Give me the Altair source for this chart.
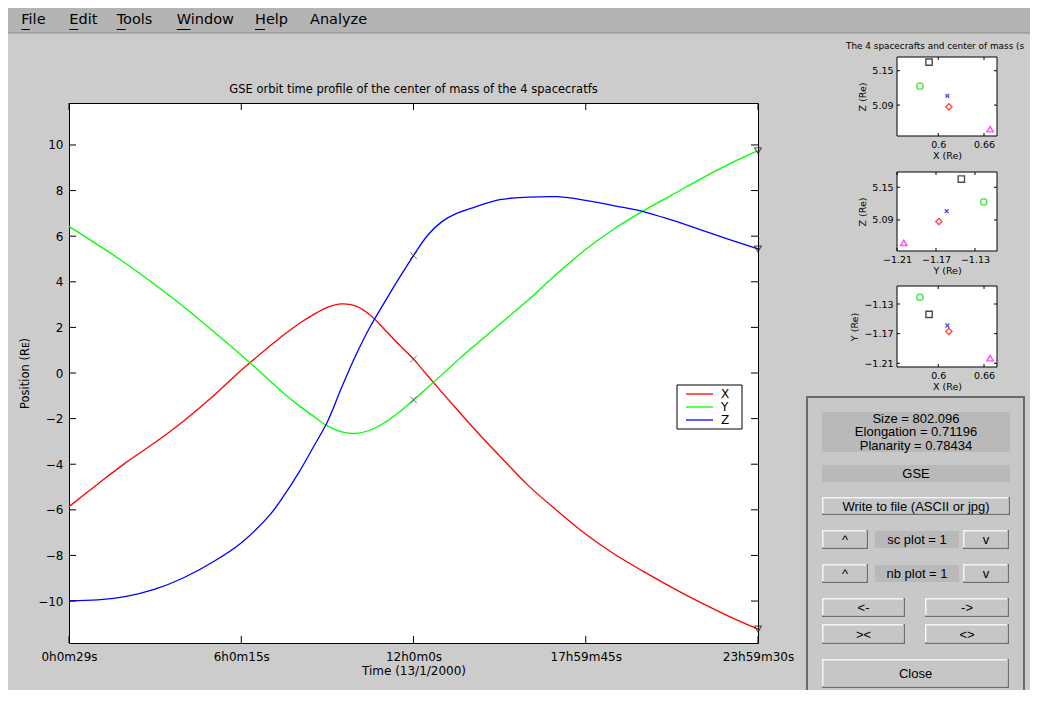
import altair as alt
import pandas as pd

# ------------------------------------------------------------------ data
# time grid (hours) and GSE positions of the centre of mass (Earth radii)
TIME_H = [0.00806, 1, 2, 3, 4, 5, 6, 7, 7.5, 8, 8.5, 9, 9.5, 10, 10.5, 11, 11.5,
          12, 12.5, 13, 13.5, 14, 15, 16, 17, 18, 19, 20, 21, 22, 23, 23.99167]
POS_X = [-5.86, -4.88, -3.92, -3.05, -2.10, -1.04, 0.12, 1.18, 1.69, 2.15, 2.55, 2.88,
         3.03, 2.93, 2.53, 1.90, 1.24, 0.61, -0.13, -0.86, -1.58, -2.29, -3.64, -4.94,
         -6.04, -7.07, -7.95, -8.70, -9.41, -10.07, -10.68, -11.23]
POS_Y = [6.43, 5.63, 4.79, 3.87, 2.91, 1.86, 0.79, -0.34, -0.91, -1.42, -1.88, -2.32,
         -2.58, -2.65, -2.50, -2.17, -1.72, -1.18, -0.62, -0.06, 0.51, 1.07, 2.14, 3.21,
         4.36, 5.43, 6.34, 7.11, 7.81, 8.51, 9.17, 9.75]
POS_Z = [-9.99, -9.95, -9.80, -9.48, -8.98, -8.30, -7.45, -6.22, -5.36, -4.38, -3.28,
         -2.15, -0.63, 0.80, 2.05, 3.12, 4.16, 5.15, 6.05, 6.65, 7.00, 7.22, 7.60, 7.71,
         7.73, 7.57, 7.33, 7.08, 6.70, 6.28, 5.85, 5.44]
SERIES = ["X", "Y", "Z"]
SERIES_COLORS = ["#ff0000", "#00ff00", "#0000ff"]

TIME_TICKS_S = [29, 21615, 43200, 64785, 86370]
TIME_TICK_LABELS = ["0h0m29s", "6h0m15s", "12h0m0s", "17h59m45s", "23h59m30s"]
POS_TICKS = [-10, -8, -6, -4, -2, 0, 2, 4, 6, 8, 10]
POS_DOMAIN = [-11.84, 11.84]

# the 4 spacecraft and their centre of mass (Re)
SC_NAMES = ["C1", "C2", "C3", "C4", "Center"]
SC_X = [0.588, 0.614, 0.576, 0.668, 0.612]
SC_Y = [-1.144, -1.167, -1.121, -1.203, -1.159]
SC_Z = [5.165, 5.087, 5.123, 5.048, 5.106]
SC_COLORS = ["#000000", "#ff0000", "#00e000", "#ff00ff", "#0000ff"]
CROSS_SMALL = "M-0.6,-0.6L0.6,0.6M-0.6,0.6L0.6,-0.6"
SC_SHAPES = ["square", "diamond", "circle", "triangle-up", CROSS_SMALL]

XRE_TICKS = [0.6, 0.66]
YRE_TICKS = [-1.21, -1.17, -1.13]
ZRE_TICKS = [5.09, 5.15]
XRE_DOMAIN = [0.546, 0.677]
YRE_DOMAIN_H = [-1.21, -1.1074]
YRE_DOMAIN_V = [-1.215, -1.1057]
ZRE_DOMAIN_1 = [5.036, 5.174]
ZRE_DOMAIN_2 = [5.033, 5.178]

INFO_LINES = ["Size = 802.096", "Elongation = 0.71196", "Planarity = 0.78434"]
MENU = ["File", "Edit", "Tools", "Window", "Help", "Analyze"]

# ------------------------------------------------------------------ layout
W, H = 689, 540
FONT = "DejaVu Sans"
UIFONT = "Liberation Sans"
CROSS = "M-1,-1L1,1M-1,1L1,-1"
ONE = alt.Data(values=[{"k": 1}])

main_df = pd.DataFrame({
    "t": [int(round(h * 3600)) for h in TIME_H] * 3,
    "series": [s for s in SERIES for _ in TIME_H],
    "pos": POS_X + POS_Y + POS_Z,
})
sc_df = pd.DataFrame({"name": SC_NAMES, "x": SC_X, "y": SC_Y, "z": SC_Z})


def rect(x0, y0, x1, y1, fill, stroke=None, sw=1.0):
    kw = {"fill": fill}
    if stroke:
        kw.update(stroke=stroke, strokeWidth=sw)
    else:
        kw.update(strokeWidth=0)
    return alt.Chart(ONE).mark_rect(**kw).encode(
        x=alt.value(x0), x2=alt.value(x1), y=alt.value(y0), y2=alt.value(y1))


def hline(x0, x1, y, color, sw=1.0):
    return alt.Chart(ONE).mark_rule(color=color, strokeWidth=sw).encode(
        x=alt.value(x0), x2=alt.value(x1), y=alt.value(y))


def text(s, x, y, size, font=UIFONT, align="center"):
    return alt.Chart(ONE).mark_text(
        text=s, font=font, fontSize=size, align=align, baseline="middle",
        color="black").encode(x=alt.value(x), y=alt.value(y))


def button(x0, y0, x1, y1, label):
    return [rect(x0, y0, x1, y1, "#6e6e6e"),
            rect(x0, y0, x1 - 1.5, y1 - 1.5, "#f4f4f4"),
            rect(x0 + 1.5, y0 + 1.5, x1 - 1.5, y1 - 1.5, "#c6c6c6"),
            text(label, (x0 + x1) / 2, (y0 + y1) / 2 + 0.5, 13)]


# ------------------------------------------------------------------ chrome
chrome = [rect(-61, -95, 961, -70, "#b4b4b4"), hline(-61, 961, -70, "#8c8c8c")]
menu_x = [-47.7, 0.3, 47.7, 107.7, 186, 241]
menu_ul = [8.5, 9, 9, 14, 10, 0]
for name, mx, ul in zip(MENU, menu_x, menu_ul):
    chrome.append(text(name, mx, -83, 14.5, font=FONT, align="left"))
    if ul:
        chrome.append(hline(mx, mx + ul, -73.5, "black", 1))

chrome.append(rect(738, 294, 955, 600, "#c8c8c8", "#6a6a6a", 2))
chrome.append(rect(753, 309, 941, 349, "#b9b9b9"))
for line, ly in zip(INFO_LINES, [315.5, 329, 342.5]):
    chrome.append(text(line, 847, ly, 13))
chrome.append(rect(753, 362, 941, 379, "#b9b9b9"))
chrome.append(text("GSE", 847, 370.5, 13))
for bx in [((753, 394, 941, 412), "Write to file (ASCII or jpg)"),
           ((753, 427, 799, 446), "^"), ((894, 427, 940, 446), "v"),
           ((753, 461, 799, 480), "^"), ((894, 461, 940, 480), "v"),
           ((753, 495, 836, 514), "<-"), ((856, 495, 940, 514), "->"),
           ((753, 521, 836, 541), "><"), ((856, 521, 940, 541), "<>"),
           ((753, 556, 940, 585), "Close")]:
    chrome += button(*bx[0], bx[1])
chrome.append(rect(806, 428, 890, 445, "#b9b9b9"))
chrome.append(text("sc plot = 1", 848, 436.5, 13))
chrome.append(rect(806, 462, 890, 479, "#b9b9b9"))
chrome.append(text("nb plot = 1", 848, 470.5, 13))

# ------------------------------------------------------------------ main plot
label_expr = " : ".join(f"datum.value == {v} ? '{l}'"
                        for v, l in zip(TIME_TICKS_S, TIME_TICK_LABELS)) + " : ''"
x_axis = alt.Axis(orient="bottom", values=TIME_TICKS_S, labelExpr=label_expr,
                  title="Time (13/1/2000)", grid=False, ticks=False, tickSize=0,
                  domain=False, labelFont=FONT, labelFontSize=12, labelPadding=8,
                  labelFlush=False, labelOverlap=False, labelColor="black",
                  titleFont=FONT, titleFontSize=12, titleFontWeight="normal",
                  titleColor="black", titlePadding=3)
y_axis = alt.Axis(orient="left", values=POS_TICKS, format="d",
                  title="Position (R\u1d07)", grid=False, ticks=False, tickSize=0,
                  domain=False, labelFont=FONT, labelFontSize=12, labelPadding=6,
                  labelColor="black", titleFont=FONT, titleFontSize=11.5,
                  titleFontWeight="normal", titleColor="black", titlePadding=7)
x_scale = alt.Scale(domain=[TIME_TICKS_S[0], TIME_TICKS_S[-1]], nice=False, zero=False)
y_scale = alt.Scale(domain=POS_DOMAIN, nice=False, zero=False)


def MX(f):
    return alt.X(f"{f}:Q", scale=x_scale, axis=x_axis)


def MY(f):
    return alt.Y(f"{f}:Q", scale=y_scale, axis=y_axis)


series_color = alt.Color("series:N", scale=alt.Scale(domain=SERIES, range=SERIES_COLORS),
                         legend=None)
base = alt.Chart(main_df)
lines = base.mark_line(strokeWidth=1.3, interpolate="catmull-rom").encode(
    x=MX("t"), y=MY("pos"), color=series_color)
mid_marks = base.transform_filter(f"datum.t == {TIME_TICKS_S[2]}").mark_point(
    shape=CROSS, size=42, filled=False, stroke="#333333", strokeWidth=1).encode(
    x=MX("t"), y=MY("pos"))
end_marks = base.transform_filter(f"datum.t == {TIME_TICKS_S[-1]}").mark_point(
    shape="triangle-down", size=45, filled=False, stroke="#222222", strokeWidth=1.2).encode(
    x=MX("t"), y=MY("pos"))
xt = alt.Chart(pd.DataFrame({"t": TIME_TICKS_S}))
yt = alt.Chart(pd.DataFrame({"pos": POS_TICKS}))
main_group = alt.layer(
    lines, mid_marks, end_marks,
    xt.mark_rule(color="black").encode(x=MX("t"), y=alt.value(H - 7), y2=alt.value(H)),
    xt.mark_rule(color="black").encode(x=MX("t"), y=alt.value(0), y2=alt.value(7)),
    yt.mark_rule(color="black").encode(y=MY("pos"), x=alt.value(0), x2=alt.value(7)),
    yt.mark_rule(color="black").encode(y=MY("pos"), x=alt.value(W - 7), x2=alt.value(W)),
)

# legend (rows placed through a small row scale)
leg = alt.Chart(pd.DataFrame({"series": SERIES, "row": list(range(len(SERIES)))}))
leg_y = alt.Y("row:Q", scale=alt.Scale(domain=[0, len(SERIES) - 1], range=[291, 317],
                                       nice=False, zero=False), axis=None)
legend_group = alt.layer(
    leg.mark_rule(strokeWidth=1.3).encode(y=leg_y, x=alt.value(617), x2=alt.value(644),
                                          color=series_color),
    leg.mark_text(align="left", baseline="middle", font=FONT, fontSize=12,
                  color="black").encode(y=leg_y, x=alt.value(652), text="series:N"),
)


# ------------------------------------------------------------------ small plots
def small_plot(xf, yf, xdom, ydom, xticks, yticks, xtitle, ytitle, box):
    x0, y0, x1, y1 = box
    xs = alt.Scale(domain=xdom, range=[x0, x1], nice=False, zero=False)
    ys = alt.Scale(domain=ydom, range=[y1, y0], nice=False, zero=False)
    common = dict(grid=False, ticks=False, tickSize=0, domain=False, format=".3~g",
                  labelFont=FONT, labelFontSize=9.5, labelColor="black",
                  labelFlush=False, labelOverlap=False, titleFont=FONT,
                  titleFontSize=9.5, titleFontWeight="normal", titleColor="black")
    xa = alt.Axis(orient="bottom", offset=y1 - H, values=xticks, title=xtitle,
                  labelPadding=3, titlePadding=2, **common)
    ya = alt.Axis(orient="left", offset=-x0, values=yticks, title=ytitle,
                  labelPadding=4, titlePadding=4, **common)

    def SX(f):
        return alt.X(f"{f}:Q", scale=xs, axis=xa)

    def SY(f):
        return alt.Y(f"{f}:Q", scale=ys, axis=ya)

    pts = alt.Chart(sc_df).mark_point(filled=False, strokeWidth=1.4, size=40).encode(
        x=SX(xf), y=SY(yf),
        color=alt.Color("name:N", scale=alt.Scale(domain=SC_NAMES, range=SC_COLORS),
                        legend=None),
        shape=alt.Shape("name:N", scale=alt.Scale(domain=SC_NAMES, range=SC_SHAPES),
                        legend=None))
    tx = alt.Chart(pd.DataFrame({"v": xticks}))
    ty = alt.Chart(pd.DataFrame({"v": yticks}))
    return alt.layer(
        pts,
        tx.mark_rule(color="black").encode(x=SX("v"), y=alt.value(y1 - 3), y2=alt.value(y1)),
        tx.mark_rule(color="black").encode(x=SX("v"), y=alt.value(y0), y2=alt.value(y0 + 3)),
        ty.mark_rule(color="black").encode(y=SY("v"), x=alt.value(x0), x2=alt.value(x0 + 3)),
        ty.mark_rule(color="black").encode(y=SY("v"), x=alt.value(x1 - 3), x2=alt.value(x1)),
    )


BOX1 = (828, -46, 928, 33)
BOX2 = (828, 69, 928, 148)
BOX3 = (828, 183, 928, 264)
frames = [rect(*b, "white", "black", 1) for b in (BOX1, BOX2, BOX3)]
small1 = small_plot("x", "z", XRE_DOMAIN, ZRE_DOMAIN_1, XRE_TICKS, ZRE_TICKS,
                    "X (Re)", "Z (Re)", BOX1)
small2 = small_plot("y", "z", YRE_DOMAIN_H, ZRE_DOMAIN_2, YRE_TICKS, ZRE_TICKS,
                    "Y (Re)", "Z (Re)", BOX2)
small3 = small_plot("x", "y", XRE_DOMAIN, YRE_DOMAIN_V, XRE_TICKS, YRE_TICKS,
                    "X (Re)", "Y (Re)", BOX3)

titles = [
    text("GSE orbit time profile of the center of mass of the 4 spacecratfs",
         W / 2, -13, 11.5, font=FONT),
    text("The 4 spacecrafts and center of mass (s", 777, -57, 8.9, font=FONT, align="left"),
]

chart = alt.layer(
    *chrome, main_group, rect(608, 282, 673, 326, "white", "black", 1), legend_group,
    *frames, small1, small2, small3, *titles,
).resolve_scale(
    x="independent", y="independent", color="independent", shape="independent"
).properties(
    width=W, height=H,
    padding={"left": 61, "top": 95, "right": 272, "bottom": 47},
    autosize=alt.AutoSizeParams(type="none"),
    background="#cccccc",
).configure_view(stroke="black", strokeWidth=1, fill="white")

chart.save("out.html", embed_options={"renderer": "svg", "actions": False})
